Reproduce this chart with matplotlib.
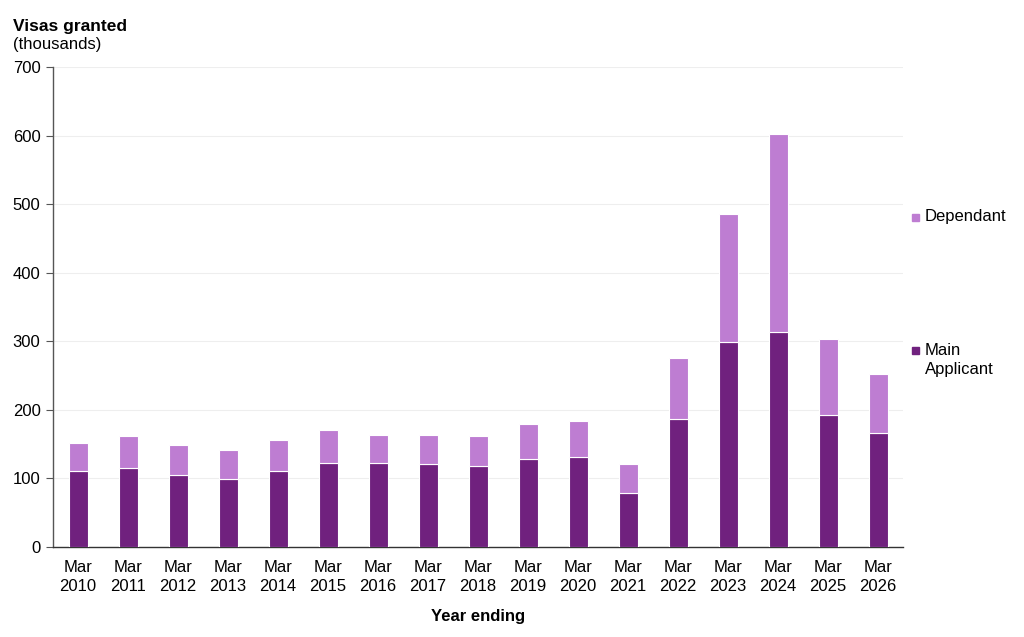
import matplotlib
matplotlib.use("Agg")
import matplotlib.pyplot as plt
import numpy as np

plt.rcParams['font.family'] = ['Liberation Sans', 'DejaVu Sans']

categories = ["Mar\n2010", "Mar\n2011", "Mar\n2012", "Mar\n2013", "Mar\n2014", "Mar\n2015",
              "Mar\n2016", "Mar\n2017", "Mar\n2018", "Mar\n2019", "Mar\n2020", "Mar\n2021",
              "Mar\n2022", "Mar\n2023", "Mar\n2024", "Mar\n2025", "Mar\n2026"]
main_applicant = [110.5, 114.9, 105.6, 99.3, 110.5, 123.1, 122.2, 120.7, 117.8, 128.5,
                  131.0, 79.3, 186.4, 298.8, 313.9, 192.3, 166.9]
total = [152.3, 161.6, 148.5, 141.6, 156.2, 170.8, 164.0, 164.0, 162.5, 180.0,
         184.4, 120.7, 275.5, 485.7, 601.9, 303.2, 252.6]
dependant = [t - m for t, m in zip(total, main_applicant)]
y_ticks = [0, 100, 200, 300, 400, 500, 600, 700]

c_main = "#70217E"
c_dep = "#BE7DD2"

fig = plt.figure(figsize=(10.24, 6.37), dpi=100)
ax = fig.add_axes([53/1024, 1-547/637, 850/1024, 480/637])

x = np.arange(len(categories))
w = 0.38
ax.bar(x, main_applicant, width=w, color=c_main, edgecolor="white", linewidth=0.8, zorder=3)
ax.bar(x, dependant, width=w, bottom=main_applicant, color=c_dep, edgecolor="white",
       linewidth=0.8, zorder=3)

ax.set_xlim(-0.5, len(categories) - 0.5)
ax.set_ylim(0, 700)
ax.set_yticks(y_ticks)
ax.set_xticks(x)
ax.set_xticklabels(categories, fontsize=12, linespacing=1.35)
ax.tick_params(axis='y', labelsize=12, length=5, color="#555555", pad=4)
ax.tick_params(axis='x', length=0, pad=9)
ax.yaxis.grid(True, color="#EEEEEE", linewidth=0.8, zorder=0)
ax.set_axisbelow(True)
for s in ["top", "right"]:
    ax.spines[s].set_visible(False)
ax.spines["left"].set_color("#555555")
ax.spines["bottom"].set_color("#333333")
ax.spines["left"].set_linewidth(1.0)
ax.spines["bottom"].set_linewidth(1.0)

ax.set_xlabel("Year ending", fontsize=12, fontweight="bold", labelpad=11)

fig.text(13/1024, 1-27/637, "Visas granted", fontsize=12.5, fontweight="bold", va="center", ha="left")
fig.text(13/1024, 1-45/637, "(thousands)", fontsize=12, va="center", ha="left")

# legend (right side)
fig.patches.append(plt.Rectangle((912/1024, 1-221/637), 7/1024, 7/637, color=c_dep,
                                 transform=fig.transFigure, figure=fig))
fig.text(925/1024, 1-217/637, "Dependant", fontsize=12, va="center", ha="left")
fig.patches.append(plt.Rectangle((912/1024, 1-354/637), 7/1024, 7/637, color=c_main,
                                 transform=fig.transFigure, figure=fig))
fig.text(925/1024, 1-360/637, "Main\nApplicant", fontsize=12, va="center", ha="left",
         linespacing=1.35)

fig.savefig("out.png", dpi=100)
